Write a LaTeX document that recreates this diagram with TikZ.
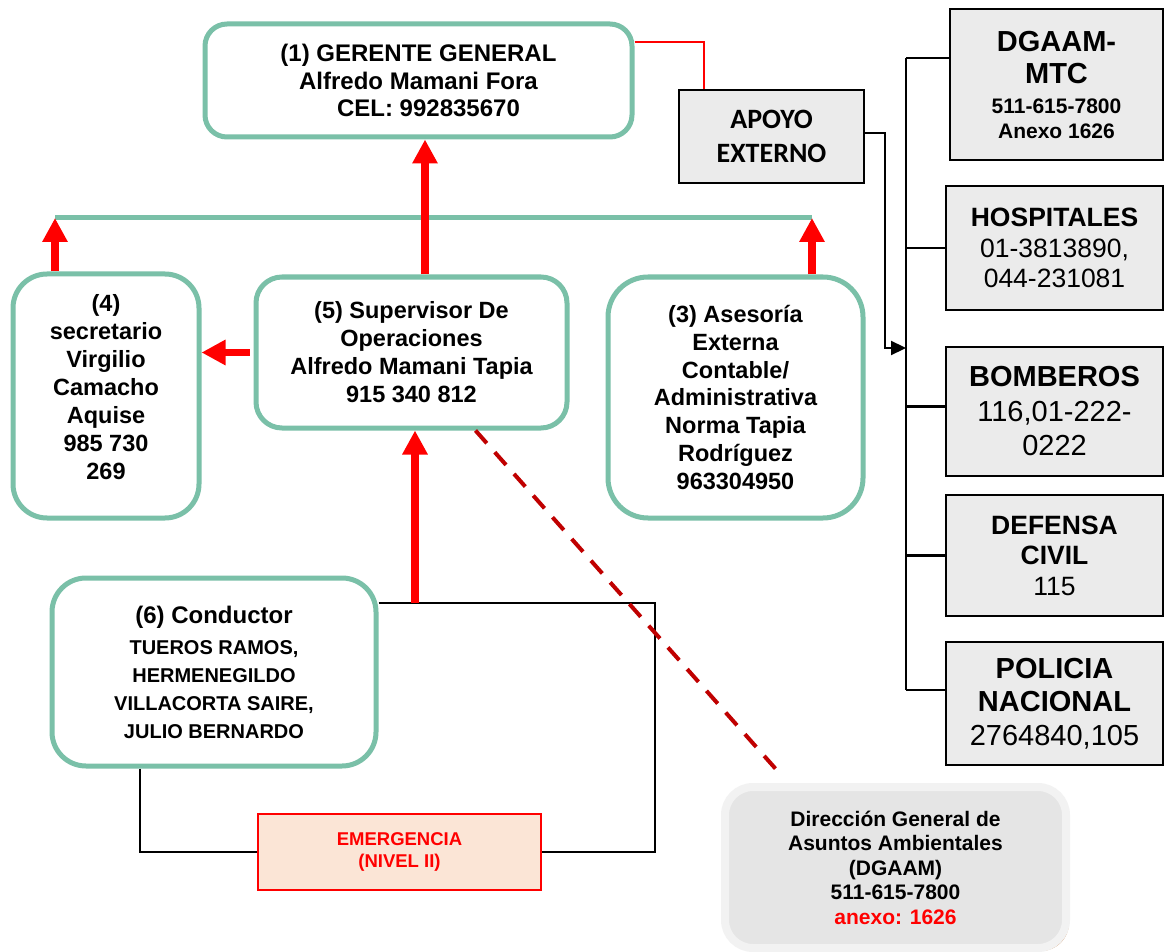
\documentclass[tikz,border=0pt]{standalone}
\usepackage{fontspec}
\setmainfont{Liberation Sans}
\newfontfamily\calibfont{Carlito}
\usetikzlibrary{arrows.meta,shadows}

\definecolor{orgteal}{RGB}{122,192,168}
\definecolor{contgray}{RGB}{235,235,235}
\definecolor{arrred}{RGB}{255,0,0}
\definecolor{dashred}{RGB}{192,0,0}
\definecolor{emgfill}{RGB}{251,229,214}
\definecolor{dgfill}{RGB}{229,229,229}
\definecolor{dgborder}{RGB}{242,242,242}
\definecolor{dgshadow}{RGB}{214,169,133}

\newcommand\fsz[2]{\fontsize{#1pt}{#2pt}\selectfont}

\tikzset{
  orgbox/.style={draw=orgteal, line width=5pt, align=center, inner sep=0pt},
  contact/.style={draw=black, fill=contgray, line width=2.2pt, align=center, inner sep=0pt},
  redarrow/.style={draw=arrred, line width=7.5pt, -{Triangle[width=24pt,length=24pt]}},
  blk/.style={draw=black, line width=2.2pt},
  tealline/.style={draw=orgteal, line width=5pt},
}

\begin{document}
\begin{tikzpicture}[x=1pt,y=-1pt]
\path[use as bounding box, fill=white] (0,0) rectangle (1165,952);

% organisation boxes
\node[orgbox, rounded corners=22pt, minimum width=427pt, minimum height=113pt,
      font=\bfseries\fsz{24}{27.5}] (ger) at (418.5,80.5)
  {(1) GERENTE GENERAL\\Alfredo Mamani Fora\\\hspace*{20pt}CEL: 992835670};

\node[orgbox, rounded corners=34pt, minimum width=186pt, minimum height=244pt,
      font=\bfseries\fsz{23.5}{28}] (sec) at (106,396)
  {(4)\\secretario\\Virgilio\\Camacho\\Aquise\\985 730\\269\\[-10pt]~};

\node[orgbox, rounded corners=26pt, minimum width=311pt, minimum height=151pt,
      font=\bfseries\fsz{23.5}{28}] (sup) at (411.5,352.5)
  {(5) Supervisor De\\Operaciones\\Alfredo Mamani Tapia\\915 340 812};

\node[orgbox, rounded corners=40pt, minimum width=255pt, minimum height=241pt,
      font=\bfseries\fsz{23.5}{27.7}] (ase) at (735.5,397.5)
  {(3) Asesoría\\Externa\\Contable/\\Administrativa\\Norma Tapia\\Rodríguez\\963304950};

\node[orgbox, rounded corners=34pt, minimum width=324pt, minimum height=188pt,
      font=\bfseries\fsz{20}{28}] (con) at (214,672)
  {{\fsz{24}{28}(6) Conductor}\\[3pt]TUEROS RAMOS,\\HERMENEGILDO\\VILLACORTA SAIRE,\\JULIO BERNARDO};

% external support
\node[contact, minimum width=185pt, minimum height=93pt,
      font=\calibfont\bfseries\fsz{28}{34}] (apo) at (771.5,136.5)
  {APOYO\\EXTERNO};

\node[contact, minimum width=213pt, minimum height=151pt,
      font=\bfseries\fsz{21}{25}] (mtc) at (1056.5,84.5)
  {{\fsz{29}{32}DGAAM-}\\[7pt]{\fsz{29}{32}MTC}\\[5pt]511-615-7800\\Anexo 1626};

\node[contact, minimum width=217pt, minimum height=124pt,
      font=\fsz{26.5}{30.5}] (hos) at (1054.5,248)
  {{\bfseries HOSPITALES}\\01-3813890,\\044-231081};

\node[contact, minimum width=217pt, minimum height=129pt,
      font=\fsz{29}{34.5}] (bom) at (1054.5,411.5)
  {{\bfseries BOMBEROS}\\116,01-222-\\0222};

\node[contact, minimum width=217pt, minimum height=121pt,
      font=\fsz{26.5}{30.5}] (def) at (1054.5,555.5)
  {{\bfseries DEFENSA}\\{\bfseries CIVIL}\\115};

\node[contact, minimum width=217pt, minimum height=123pt,
      font=\fsz{29}{33.5}] (pol) at (1054.5,703.5)
  {{\bfseries POLICIA}\\{\bfseries NACIONAL}\\2764840,105};

% emergency level
\node[draw=arrred, fill=emgfill, line width=1.5pt, minimum width=283pt, minimum height=76pt,
      inner sep=0pt, align=center, text=arrred, font=\bfseries\fsz{18.5}{22}] (emg) at (399.5,852)
  {EMERGENCIA\\(NIVEL II)};

% environmental authority
\node[draw=dgborder, fill=dgfill, line width=8pt, rounded corners=28pt,
      minimum width=341pt, minimum height=161pt, inner sep=0pt, align=center,
      font=\bfseries\fsz{21}{24.5},
      drop shadow={shadow xshift=3pt, shadow yshift=-3pt, fill=dgshadow, opacity=1}] (dg) at (895.5,867.5)
  {Dirección General de\\Asuntos Ambientales\\(DGAAM)\\511-615-7800\\{\color{arrred}anexo: 1626}};

% reporting line between staff and management
\coordinate (tl) at (55,218);
\coordinate (tr) at (812,218);
\draw[tealline] (tl) -- (tr);

\draw[redarrow] ([xshift=-51pt]sec.north) -- (tl);
\draw[redarrow] ([xshift=76.5pt]ase.north) -- (tr);
\coordinate (s1) at ([xshift=13.5pt]sup.north);
\draw[redarrow] (s1) -- (s1 |- ger.south);
\coordinate (s2) at ([xshift=-4pt]sup.west);
\draw[redarrow] (s2) -- (s2 -| sec.east);

% driver loop through the emergency level
\coordinate (j) at (415,603);
\coordinate (k) at (655,603);
\draw[blk] ([yshift=69pt]con.east) -- (k) |- (emg.east);
\draw[blk] ([xshift=-74pt]con.south) |- (emg.west);
\draw[redarrow] (j) -- (j |- sup.south);

% link to environmental authority
\draw[dashred, line width=4pt, dash pattern=on 17pt off 12pt]
  ([xshift=64pt]sup.south) -- ([xshift=-113.5pt,yshift=7pt]dg.north);

% manager to external support
\draw[arrred, line width=2pt] ([yshift=38.5pt]ger.east) -| ([xshift=-67.5pt]apo.north);

% external support distribution bar
\coordinate (bt) at (906,58);
\coordinate (bb) at (906,690);
\coordinate (ba) at (906,348);
\coordinate (bc) at (885,348);
\draw[blk] (bt) -- (bb);
\draw[blk, -{Triangle[width=14pt,length=15pt]}] ([yshift=3.5pt]apo.east) -| (bc) -- (ba);
\draw[blk] (bt) -- (bt -| mtc.west);
\draw[blk] (hos.west -| bt) -- (hos.west);
\coordinate (b3) at ([yshift=5pt]bom.west);
\draw[blk] (b3 -| bt) -- (b3);
\draw[blk] (def.west -| bt) -- (def.west);
\draw[blk] (bb) -- (bb -| pol.west);
\end{tikzpicture}
\end{document}
